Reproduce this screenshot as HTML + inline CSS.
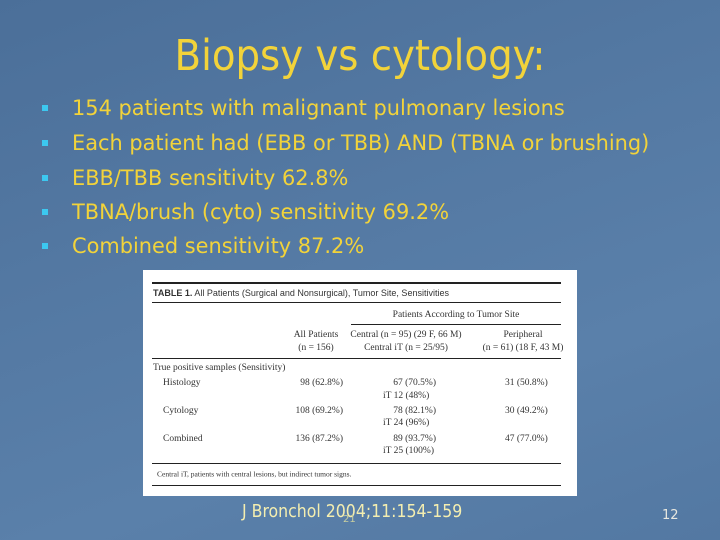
<!DOCTYPE html>
<html><head><meta charset="utf-8"><style>
body{margin:0;width:720px;height:540px;overflow:hidden}
#slide{position:relative;width:720px;height:540px;background:linear-gradient(160deg,#4b6f99 0%,#5479a3 40%,#5a80aa 70%,#5378a2 100%);font-family:"DejaVu Sans","Liberation Sans",sans-serif;overflow:hidden}
.y{color:#f2d33a;position:absolute;white-space:nowrap}
.b{position:absolute;left:42px;width:6px;height:6px;background:#3cc8f0}
.bt{left:72px;font-size:20.9px;transform:translateY(-50%)}
#tbl{position:absolute;left:143px;top:270px;width:434px;height:226px;background:#fff}
.t{position:absolute;white-space:nowrap;font-family:"Liberation Serif",serif;font-size:9.5px;color:#333;transform:translateY(-50%)}
.r{position:absolute;background:#222;height:1px}
.c{text-align:center}
</style></head><body>
<div id="slide">
<div class="y" style="left:0;width:720px;text-align:center;top:31px;font-size:43px;font-family:'DejaVu Sans Condensed','DejaVu Sans',sans-serif">Biopsy vs cytology:</div>

<div class="b" style="top:105px"></div>
<div class="y bt" style="top:108px">154 patients with malignant pulmonary lesions</div>
<div class="b" style="top:140px"></div>
<div class="y bt" style="top:143px">Each patient had (EBB or TBB) AND (TBNA or brushing)</div>
<div class="b" style="top:175px"></div>
<div class="y bt" style="top:178px">EBB/TBB sensitivity 62.8%</div>
<div class="b" style="top:209px"></div>
<div class="y bt" style="top:212px">TBNA/brush (cyto) sensitivity 69.2%</div>
<div class="b" style="top:243px"></div>
<div class="y bt" style="top:246px">Combined sensitivity 87.2%</div>

<div id="tbl">
<div class="r" style="left:9px;width:409px;top:12px;height:2px"></div>
<div class="t" style="left:10px;top:23px;font-family:'Liberation Sans',sans-serif;font-size:9px"><b>TABLE 1.</b> All Patients (Surgical and Nonsurgical), Tumor Site, Sensitivities</div>
<div class="r" style="left:9px;width:409px;top:32px"></div>
<div class="t" style="left:208px;width:210px;top:45px;text-align:center">Patients According to Tumor Site</div>
<div class="r" style="left:208px;width:210px;top:54px"></div>
<div class="t c" style="left:143px;width:60px;top:72px;line-height:13px">All Patients<br>(n = 156)</div>
<div class="t c" style="left:203px;width:120px;top:72px;line-height:13px">Central (n = 95) (29 F, 66 M)<br>Central iT (n = 25/95)</div>
<div class="t c" style="left:330px;width:100px;top:72px;line-height:13px">Peripheral<br>(n = 61) (18 F, 43 M)</div>
<div class="r" style="left:9px;width:409px;top:88px"></div>
<div class="t" style="left:10px;top:98px">True positive samples (Sensitivity)</div>
<div class="t" style="left:20px;top:113px">Histology</div>
<div class="t" style="right:234px;top:113px">98 (62.8%)</div>
<div class="t" style="right:141px;top:113px">67 (70.5%)</div>
<div class="t" style="left:240px;top:126px">iT 12 (48%)</div>
<div class="t" style="left:362px;top:113px">31 (50.8%)</div>
<div class="t" style="left:20px;top:141px">Cytology</div>
<div class="t" style="right:234px;top:141px">108 (69.2%)</div>
<div class="t" style="right:141px;top:141px">78 (82.1%)</div>
<div class="t" style="left:240px;top:153px">iT 24 (96%)</div>
<div class="t" style="left:362px;top:141px">30 (49.2%)</div>
<div class="t" style="left:20px;top:169px">Combined</div>
<div class="t" style="right:234px;top:169px">136 (87.2%)</div>
<div class="t" style="right:141px;top:169px">89 (93.7%)</div>
<div class="t" style="left:240px;top:181px">iT 25 (100%)</div>
<div class="t" style="left:362px;top:169px">47 (77.0%)</div>
<div class="r" style="left:9px;width:409px;top:193px"></div>
<div class="t" style="left:14px;top:204px;font-size:7.5px">Central iT, patients with central lesions, but indirect tumor signs.</div>
<div class="r" style="left:9px;width:409px;top:215px"></div>
</div>

<div class="y" style="left:242px;top:502px;font-size:17.5px;color:#f4eeb0;font-family:'DejaVu Sans Condensed','DejaVu Sans',sans-serif">J Bronchol 2004;11:154-159</div>
<div class="y" style="left:343px;top:514px;font-size:10px;color:#c9cfa0">21</div>
<div class="y" style="left:662px;top:508px;font-size:13px;color:#e8e8e0">12</div>
</div>
</body></html>
